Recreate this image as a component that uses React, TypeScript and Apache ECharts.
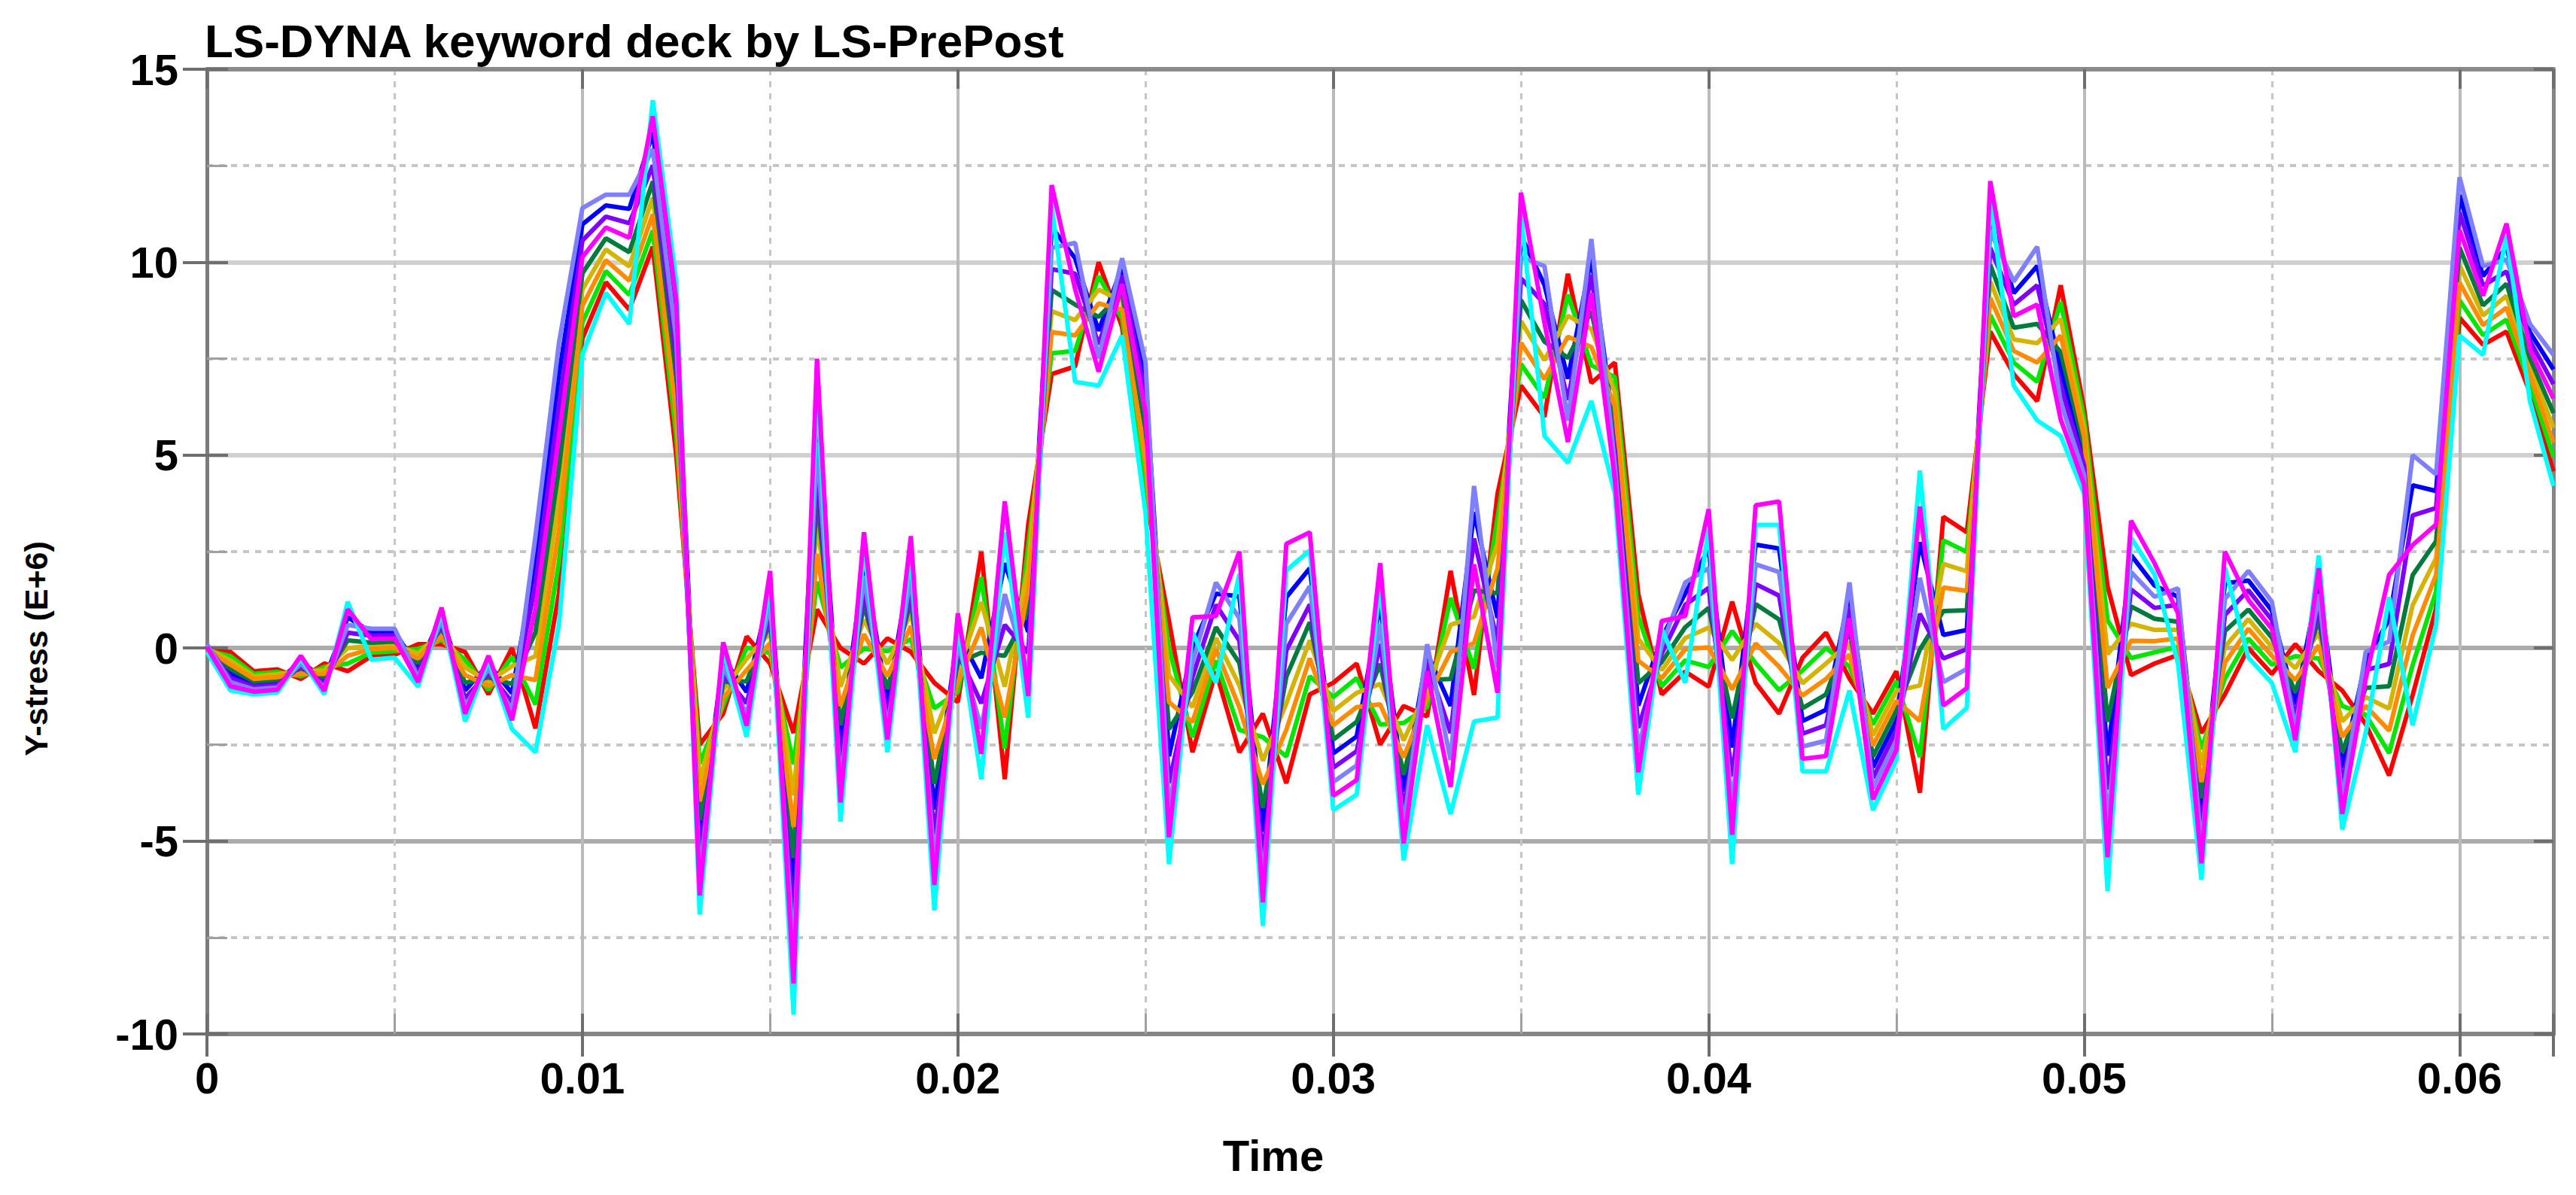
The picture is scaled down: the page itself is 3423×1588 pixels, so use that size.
import React, { useEffect, useRef } from "react";
import * as echarts from "echarts";

// History output interval (s) and number of output states
const TIME_STEP = 0.000625;
const STATE_COUNT = 101;
const timeValues: number[] = Array.from({ length: STATE_COUNT }, (_, i) => +(i * TIME_STEP).toFixed(6));

const chartTitle = "LS-DYNA keyword deck by LS-PrePost";
const xAxisTitle = "Time";
const yAxisTitle = "Y-stress (E+6)";
const xTickLabels = ["0", "0.01", "0.02", "0.03", "0.04", "0.05", "0.06"];
const yTickLabels = ["-10", "-5", "0", "5", "10", "15"];

const seriesNames = ["E1", "E2", "E3", "E4", "E5", "E6", "E7", "E8", "E9", "E10"];
const seriesColors = ["#ff0000", "#00e600", "#0000ff", "#d4b400", "#007a3d", "#ff8c00", "#8000ff", "#8080ff", "#00ffff", "#ff00ff"];

const e1 = [
  -0.08, -0.1, -0.6, -0.55, -0.8, -0.4, -0.6, -0.21, -0.17, 0.1,
  0.1, -0.1, -1.2, 0, -2.08, 1.41, 8.02, 9.48, 8.77, 10.4,
  5.0, -2.5, -1.7, 0.3, -0.4, -2.2, 1.0, 0, -0.4, 0.25,
  -0.1, -0.9, -1.4, 2.5, -3.4, 3.2, 7.1, 7.3, 10.0, 8.32,
  3.93, 0.7, -2.7, -0.61, -2.7, -1.7, -3.5, -1.2, -0.9, -0.4,
  -2.5, -1.5, -1.77, 2.0, -1.22, 4.0, 6.8, 5.99, 9.7, 6.87,
  7.4, 1.4, -1.2, -0.61, -1.0, 1.2, -0.9, -1.7, -0.25, 0.4,
  -0.79, -1.7, -0.6, -3.75, 3.4, 3.0, 8.2, 7.1, 6.4, 9.4,
  6.2, 1.6, -0.7, -0.4, -0.18, -2.2, -1.2, 0, -0.67, 0.1,
  -0.6, -1.1, -1.97, -3.3, -1.22, 1.03, 8.56, 7.86, 8.2, 6.62,
  4.58,
];
const e2 = [
  -0.06, -0.21, -0.67, -0.62, -0.73, -0.49, -0.4, -0.12, -0.08, -0.02,
  0.21, -0.3, -1.09, -0.23, -1.46, 2.22, 8.44, 9.77, 9.15, 10.82,
  5.5, -2.99, -1.49, 0.01, -0.13, -3.01, 1.72, -0.5, -0.02, -0.08,
  0.23, -1.56, -1.14, 1.84, -2.6, 2.64, 7.64, 7.7, 9.64, 8.54,
  4.37, 0, -2.31, -0.32, -2.12, -2.31, -2.81, -0.73, -1.27, -0.78,
  -1.98, -1.94, -1.53, 1.3, -0.54, 3.36, 7.36, 6.48, 9.16, 7.33,
  7.02, 0.82, -0.99, -0.32, -0.49, 0.44, -0.39, -1.09, -0.58, 0,
  -0.48, -1.98, -0.86, -2.82, 2.79, 2.49, 8.63, 7.4, 6.9, 8.97,
  5.96, 0.72, -0.26, -0.11, 0.03, -2.62, -0.79, 0.25, -0.43, -0.21,
  -0.27, -1.5, -1.73, -2.72, -0.44, 1.47, 9.01, 8.11, 8.51, 6.84,
  4.96,
];
const e3 = [
  0.08, -0.66, -0.93, -0.88, -0.33, -0.84, 0.8, 0.41, 0.42, -0.51,
  0.84, -1.1, -0.42, -1.17, 2.28, 7.09, 10.98, 11.47, 11.38, 13.36,
  8.5, -4.94, -0.26, -1.14, 1.47, -6.26, 6.06, -2.5, 2.24, -1.39,
  2.23, -4.18, 0.39, -0.78, 2.2, 0.42, 10.91, 10.1, 8.22, 9.88,
  6.97, -2.8, 0.02, 1.41, 1.34, -4.76, 1.32, 2.07, -2.73, -2.29,
  1.16, -3.72, -0.13, -1.5, 3.52, 0.78, 10.69, 9.41, 6.98, 10.13,
  5.51, -1.49, 0.28, 1.41, 2.58, -2.58, 2.68, 2.58, -1.89, -1.6,
  1.39, -3.09, -1.88, 2.74, 0.34, 0.47, 11.23, 9.2, 9.9, 7.23,
  4.98, -2.79, 2.41, 1.62, 1.33, -4.31, 1.68, 1.75, 0.97, -1.46,
  1.73, -3.1, -0.33, 0.74, 4.22, 4.07, 11.74, 9.64, 10.38, 8.18,
  7.22,
];
const e4 = [
  -0.01, -0.32, -0.73, -0.68, -0.6, -0.58, 0, 0.06, 0.08, -0.14,
  0.42, -0.5, -0.87, -0.47, -0.21, 3.84, 9.29, 10.33, 9.89, 11.67,
  6.5, -3.48, -1.08, -0.28, 0.4, -3.82, 3.17, -1.0, 0.73, -0.41,
  0.9, -2.21, -0.63, 1.19, -1.0, 2.09, 8.73, 8.5, 9.29, 8.99,
  5.23, -0.7, -1.53, 0.26, -0.97, -2.92, -1.43, 0.2, -1.63, -1.16,
  -0.93, -2.39, -1.07, 0.6, 0.81, 2.71, 8.47, 7.46, 8.61, 8.27,
  6.64, 0.24, -0.57, 0.26, 0.53, -0.31, 0.63, 0.13, -0.91, -0.4,
  0.14, -2.26, -1.11, -0.97, 2.18, 1.99, 9.5, 8.0, 7.9, 8.53,
  5.71, -0.16, 0.63, 0.47, 0.47, -3.04, 0.03, 0.75, 0.03, -0.52,
  0.4, -1.9, -1.27, -1.57, 1.11, 2.33, 9.92, 8.62, 9.13, 7.29,
  5.71,
];
const e5 = [
  0.01, -0.54, -0.87, -0.82, -0.53, -0.76, 0.2, 0.14, 0.17, -0.39,
  0.52, -0.9, -0.76, -0.93, 0.41, 4.66, 9.71, 10.62, 10.26, 12.09,
  7.0, -4.46, -0.88, -0.86, 0.67, -5.44, 3.89, -2.0, 1.11, -1.06,
  1.23, -3.52, -0.38, -0.12, -0.2, 0.98, 9.28, 8.9, 8.58, 9.21,
  5.67, -2.1, -1.14, 0.54, -0.39, -4.14, -0.74, 0.67, -2.37, -1.91,
  -0.41, -3.28, -0.83, -0.8, 1.49, 1.42, 9.02, 7.94, 7.52, 8.73,
  5.89, -0.91, -0.36, 0.54, 1.04, -1.82, 1.14, 0.74, -1.56, -1.2,
  0.46, -2.81, -1.62, -0.04, 0.96, 0.98, 9.93, 8.3, 8.4, 7.67,
  5.22, -1.91, 1.08, 0.76, 0.68, -3.89, 0.44, 1.0, 0.27, -1.14,
  0.73, -2.7, -1.03, -0.99, 1.89, 2.77, 10.38, 8.88, 9.44, 7.51,
  6.09,
];
const e6 = [
  -0.03, -0.43, -0.8, -0.75, -0.67, -0.67, -0.2, -0.03, 0, -0.27,
  0.31, -0.7, -0.98, -0.7, -0.83, 3.03, 8.87, 10.05, 9.52, 11.24,
  6.0, -3.97, -1.29, -0.57, 0.13, -4.63, 2.44, -1.5, 0.36, -0.73,
  0.57, -2.87, -0.89, 0.53, -1.8, 1.53, 8.19, 8.1, 8.93, 8.77,
  4.8, -1.4, -1.92, -0.03, -1.54, -3.53, -2.12, -0.27, -2.0, -1.53,
  -1.46, -2.83, -1.3, -0.1, 0.13, 2.07, 7.91, 6.97, 8.07, 7.8,
  6.27, -0.33, -0.78, -0.03, 0.02, -1.07, 0.12, -0.48, -1.23, -0.8,
  -0.17, -2.53, -1.37, -1.89, 1.57, 1.48, 9.07, 7.7, 7.4, 8.1,
  5.47, -1.03, 0.19, 0.18, 0.25, -3.47, -0.38, 0.5, -0.2, -0.83,
  0.07, -2.3, -1.5, -2.14, 0.33, 1.9, 9.47, 8.37, 8.82, 7.07,
  5.33,
];
const e7 = [
  0.06, -0.77, -1.0, -0.95, -0.47, -0.93, 0.4, 0.32, 0.33, -0.63,
  0.63, -1.3, -0.64, -1.4, 1.66, 6.28, 10.56, 11.18, 11.01, 12.51,
  7.5, -5.43, -0.67, -1.43, 0.93, -7.07, 4.61, -3.0, 1.49, -1.72,
  1.57, -4.83, -0.12, -1.43, 0.6, -0.13, 9.82, 9.7, 7.87, 9.66,
  6.53, -3.5, -0.76, 1.12, 0.19, -5.37, -0.06, 1.13, -3.1, -2.67,
  0.11, -4.17, -0.37, -2.2, 2.84, 0.13, 9.58, 8.92, 6.43, 9.67,
  5.13, -2.07, -0.14, 1.12, 1.56, -3.33, 1.66, 1.36, -2.22, -2.0,
  1.08, -3.37, -2.13, 0.89, -0.27, -0.03, 10.37, 8.9, 9.4, 6.8,
  4.73, -3.67, 1.52, 1.04, 1.12, -4.73, 0.86, 1.5, 0.73, -1.77,
  1.07, -3.5, -0.57, -0.41, 3.44, 3.63, 11.29, 9.39, 9.76, 7.96,
  6.84,
];
const e8 = [
  0.1, -0.88, -1.07, -1.02, -0.4, -1.02, 0.6, 0.5, 0.5, -0.76,
  0.73, -1.5, -0.53, -1.63, 2.9, 7.9, 11.4, 11.75, 11.75, 12.93,
  8.0, -5.92, -0.47, -1.72, 1.2, -7.88, 5.33, -3.5, 1.87, -2.05,
  1.9, -5.49, 0.13, -2.09, 1.4, -0.69, 10.37, 10.5, 7.51, 10.1,
  7.4, -4.2, -0.37, 1.7, 0.77, -5.98, 0.63, 1.6, -3.47, -3.04,
  0.63, -4.61, 0.1, -2.9, 4.2, -0.51, 10.13, 9.9, 5.89, 10.6,
  4.76, -2.64, 0.07, 1.7, 2.07, -4.09, 2.17, 1.97, -2.55, -2.4,
  1.7, -3.64, -2.39, 1.82, -0.88, -0.54, 10.8, 9.5, 10.4, 6.37,
  4.49, -4.54, 1.97, 1.33, 1.55, -5.16, 1.27, 2.0, 1.2, -2.08,
  1.4, -3.9, -0.1, 0.17, 5.0, 4.5, 12.2, 9.9, 10.07, 8.4,
  7.6,
];
const e9 = [
  -0.1, -1.1, -1.2, -1.15, -0.27, -1.2, 1.2, -0.3, -0.25, -1.0,
  0.94, -1.9, -0.31, -2.1, -2.7, 0.6, 7.6, 9.2, 8.4, 14.2,
  9.5, -6.9, -0.06, -2.3, 1.73, -9.5, 6.78, -4.5, 2.62, -2.7,
  2.57, -6.8, 0.64, -3.4, 3.0, -1.8, 11.46, 6.9, 6.8, 8.1,
  3.5, -5.6, 0.41, -0.9, 1.92, -7.2, 2.01, 2.53, -4.2, -3.8,
  1.68, -5.5, -2.0, -4.3, -1.9, -1.8, 11.24, 5.5, 4.8, 6.4,
  4.0, -3.8, 0.49, -0.9, 3.09, -5.6, 3.19, 3.19, -3.2, -3.2,
  -1.1, -4.2, -2.9, 4.6, -2.1, -1.55, 11.67, 6.8, 5.9, 5.5,
  4.0, -6.3, 2.86, 1.91, -0.4, -6.0, 2.09, -0.25, -0.9, -2.7,
  2.4, -4.7, -2.2, 1.32, -2.0, 0.6, 8.1, 7.6, 10.69, 6.4,
  4.2,
];
const e10 = [
  0.03, -0.99, -1.13, -1.08, -0.2, -1.11, 1.0, 0.23, 0.25, -0.88,
  1.05, -1.7, -0.2, -1.87, 1.03, 5.47, 10.13, 10.9, 10.63, 13.78,
  9.0, -6.41, 0.15, -2.01, 2.0, -8.69, 7.5, -4.0, 3.0, -2.37,
  2.9, -6.14, 0.9, -2.74, 3.8, -1.24, 12.0, 9.3, 7.16, 9.43,
  6.1, -4.9, 0.8, 0.83, 2.5, -6.59, 2.7, 3.0, -3.83, -3.42,
  2.2, -5.06, -0.6, -3.6, 2.17, -1.16, 11.8, 8.43, 5.34, 9.2,
  4.38, -3.22, 0.7, 0.83, 3.6, -4.84, 3.7, 3.8, -2.87, -2.8,
  0.77, -3.92, -2.64, 3.67, -1.49, -1.04, 12.1, 8.6, 8.9, 5.93,
  4.24, -5.42, 3.3, 2.2, 0.9, -5.58, 2.5, 1.25, 0.5, -2.39,
  2.07, -4.3, -0.8, 1.9, 2.67, 3.2, 10.83, 9.13, 11.0, 7.73,
  6.47,
];
const seriesValues = [e1, e2, e3, e4, e5, e6, e7, e8, e9, e10];

const FONT = '"Liberation Sans", Arial, Helvetica, sans-serif';

function xLabel(v: number): string {
  const k = Math.round(v / 0.01);
  if (Math.abs(v - k * 0.01) < 1e-9 && k >= 0 && k < xTickLabels.length) return xTickLabels[k];
  return "";
}
function yLabel(v: number): string {
  const k = Math.round((v + 10) / 5);
  if (Math.abs(v - (k * 5 - 10)) < 1e-9 && k >= 0 && k < yTickLabels.length) return yTickLabels[k];
  return "";
}

export default function App() {
  const ref = useRef<HTMLDivElement>(null);
  useEffect(() => {
    if (!ref.current) return;
    const chart = echarts.init(ref.current, undefined, { renderer: "svg" });
    const xBase = { type: "value", min: 0, max: 0.0625, gridIndex: 0 } as any;
    const yBase = { type: "value", min: -10, max: 15, gridIndex: 0 } as any;
    const labelStyle = { color: "#000", fontSize: 58, fontWeight: "bold", fontFamily: FONT };
    const option: any = {
      animation: false,
      backgroundColor: "#ffffff",
      grid: { left: 275, right: 30, top: 92, bottom: 214, containLabel: false, outerBoundsMode: "none" },
      xAxis: [
        {
          ...xBase, position: "bottom", interval: 0.01,
          axisLine: { show: true, onZero: false, lineStyle: { color: "#858585", width: 6 } },
          axisTick: { show: true, inside: false, length: 30, lineStyle: { color: "#6e6e6e", width: 4 } },
          axisLabel: { show: true, margin: 58, verticalAlign: "middle", formatter: xLabel, ...labelStyle },
          splitLine: { show: true, lineStyle: { color: ["#808080", "#bababa", "#bababa", "#bababa", "#bababa", "#bababa", "#bababa", "#888888"], width: 4 } },
        },
        {
          ...xBase, position: "bottom", interval: 0.005,
          axisLine: { show: false, onZero: false },
          axisTick: { show: true, inside: true, length: 27, lineStyle: { color: "#a0a0a0", width: 3 } },
          axisLabel: { show: false },
          splitLine: { show: true, lineStyle: { color: ["transparent", "#c6c6c6"], width: 3, type: [8, 8] } },
        },
        {
          ...xBase, position: "bottom", interval: 0.01,
          axisLine: { show: false, onZero: false },
          axisTick: { show: true, inside: true, length: 27, lineStyle: { color: "#6e6e6e", width: 4 } },
          axisLabel: { show: false },
          splitLine: { show: false },
        },
        {
          ...xBase, position: "top", interval: 0.01,
          axisLine: { show: true, onZero: false, lineStyle: { color: "#8a8a8a", width: 6 } },
          axisTick: { show: true, inside: true, length: 26, lineStyle: { color: "#6e6e6e", width: 4 } },
          axisLabel: { show: false },
          splitLine: { show: false },
        },
      ],
      yAxis: [
        {
          ...yBase, position: "left", interval: 5,
          axisLine: { show: true, onZero: false, lineStyle: { color: "#7d7d7d", width: 5 } },
          axisTick: { show: true, inside: false, length: 32, lineStyle: { color: "#6e6e6e", width: 4 } },
          axisLabel: { show: true, margin: 38, formatter: yLabel, ...labelStyle },
          splitLine: { show: true, lineStyle: { color: ["#858585", "#ababab", "#ababab", "#d0d0d0", "#d0d0d0", "#8a8a8a"], width: 6 } },
        },
        {
          ...yBase, position: "left", interval: 2.5,
          axisLine: { show: false, onZero: false },
          axisTick: { show: true, inside: true, length: 27, lineStyle: { color: "#a0a0a0", width: 3 } },
          axisLabel: { show: false },
          splitLine: { show: true, lineStyle: { color: ["transparent", "#c6c6c6"], width: 4, type: [8, 8] } },
        },
        {
          ...yBase, position: "left", interval: 5,
          axisLine: { show: false, onZero: false },
          axisTick: { show: true, inside: true, length: 28, lineStyle: { color: "#6e6e6e", width: 4 } },
          axisLabel: { show: false },
          splitLine: { show: false },
        },
        {
          ...yBase, position: "right", interval: 5,
          axisLine: { show: true, onZero: false, lineStyle: { color: "#858585", width: 5 } },
          axisTick: { show: true, inside: true, length: 26, lineStyle: { color: "#6e6e6e", width: 4 } },
          axisLabel: { show: false },
          splitLine: { show: false },
        },
      ],
      graphic: [
        {
          type: "text", x: 272, y: 54,
          style: { text: chartTitle, fill: "#000", fontSize: 62, fontWeight: "bold", fontFamily: FONT, align: "left", verticalAlign: "middle" },
        },
        {
          type: "text", x: 1692, y: 1535,
          style: { text: xAxisTitle, fill: "#000", fontSize: 58, fontWeight: "bold", fontFamily: FONT, align: "center", verticalAlign: "middle" },
        },
        {
          type: "text", x: 48, y: 862, rotation: Math.PI / 2,
          style: { text: yAxisTitle, fill: "#000", fontSize: 43, fontWeight: "bold", fontFamily: FONT, align: "center", verticalAlign: "middle" },
        },
      ],
      series: seriesValues.map((vals, s) => ({
        name: seriesNames[s],
        type: "line",
        xAxisIndex: 0,
        yAxisIndex: 0,
        data: vals.map((v, i) => [timeValues[i], v]),
        showSymbol: false,
        symbol: "none",
        silent: true,
        clip: true,
        lineStyle: { color: seriesColors[s], width: 6 },
        itemStyle: { color: seriesColors[s] },
        z: 3,
      })),
    };
    chart.setOption(option);
    return () => chart.dispose();
  }, []);
  return (
    <div
      ref={ref}
      style={{ position: "fixed", left: 0, top: 0, width: 3423, height: 1588, background: "#fff" }}
    />
  );
}
